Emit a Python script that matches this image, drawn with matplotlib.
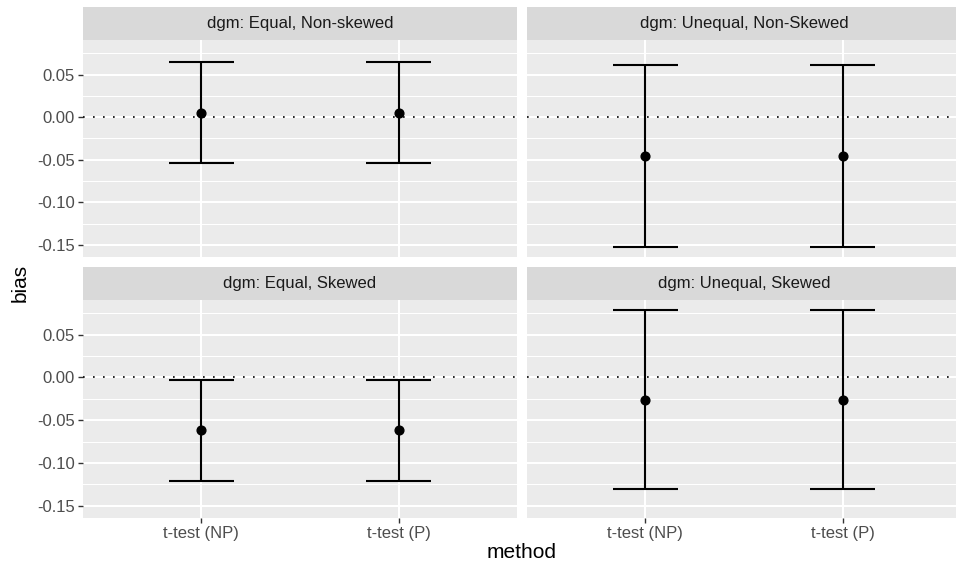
import matplotlib
matplotlib.use("Agg")
import matplotlib.pyplot as plt
import numpy as np

plt.rcParams["font.family"] = ["Liberation Sans", "DejaVu Sans"]

# facet labels, in facet_wrap order
panels = [
    "dgm: Equal, Non-skewed",
    "dgm: Unequal, Non-Skewed",
    "dgm: Equal, Skewed",
    "dgm: Unequal, Skewed",
]
methods = ["t-test (NP)", "t-test (P)"]

# one row per panel, one column per method
bias = np.array([
    [0.0054, 0.0054],
    [-0.0457, -0.0457],
    [-0.0617, -0.0617],
    [-0.0260, -0.0260],
])
lower = np.array([
    [-0.0539, -0.0539],
    [-0.1527, -0.1527],
    [-0.1206, -0.1206],
    [-0.1304, -0.1304],
])
upper = np.array([
    [0.0648, 0.0648],
    [0.0609, 0.0609],
    [-0.0024, -0.0024],
    [0.0790, 0.0790],
])

y_ticks = [0.05, 0.00, -0.05, -0.10, -0.15]
y_minor = [0.075, 0.025, -0.025, -0.075, -0.125]

PANEL_BG = "#EBEBEB"
STRIP_BG = "#D9D9D9"
W, H = 956, 565

fig = plt.figure(figsize=(W / 100, H / 100), dpi=100)

# pixel boxes (left, top, right, bottom) of the panels
cols = [(83, 517), (527, 961)]
rows = [(40, 257), (300, 518)]
strip_h = 33

lo, hi = lower.min(), upper.max()
pad = (hi - lo) * 0.05
ylim = (lo - pad, hi + pad)
xpos = np.arange(1, len(methods) + 1)
cap = 0.165

for k, title in enumerate(panels):
    r, c = divmod(k, 2)
    x0, x1 = cols[c]
    y0, y1 = rows[r]
    ax = fig.add_axes([x0 / W, 1 - y1 / H, (x1 - x0) / W, (y1 - y0) / H])
    ax.set_facecolor(PANEL_BG)
    for s in ax.spines.values():
        s.set_visible(False)
    ax.set_xlim(0.4, len(methods) + 0.6)
    ax.set_ylim(*ylim)
    ax.set_axisbelow(True)

    for v in y_minor:
        ax.axhline(v, color="white", lw=0.75, zorder=0)
    for v in y_ticks:
        ax.axhline(v, color="white", lw=1.45, zorder=0)
    for v in xpos:
        ax.axvline(v, color="white", lw=1.45, zorder=0)

    ax.axhline(0, color="black", lw=1.2, linestyle=(0, (1, 5)), zorder=1)

    ax.vlines(xpos, lower[k], upper[k], color="black", lw=1.5, zorder=2)
    ax.hlines(lower[k], xpos - cap, xpos + cap, color="black", lw=1.5, zorder=2)
    ax.hlines(upper[k], xpos - cap, xpos + cap, color="black", lw=1.5, zorder=2)
    ax.plot(xpos, bias[k], "o", color="black", ms=6.3, zorder=3)

    ax.set_yticks(y_ticks)
    ax.set_xticks(xpos)
    ax.tick_params(length=3.4, width=1.0, color="#333333", labelcolor="#4D4D4D",
                   labelsize=12, pad=2.5)
    if c == 0:
        ax.set_yticklabels([f"{v:.2f}" for v in y_ticks])
    else:
        ax.tick_params(axis="y", left=False, labelleft=False)
    if r == 1:
        ax.set_xticklabels(methods)
    else:
        ax.tick_params(axis="x", bottom=False, labelbottom=False)

    sax = fig.add_axes([x0 / W, 1 - y0 / H, (x1 - x0) / W, strip_h / H])
    sax.set_facecolor(STRIP_BG)
    sax.set_xticks([])
    sax.set_yticks([])
    for s in sax.spines.values():
        s.set_visible(False)
    sax.text(0.5, 0.5, title, ha="center", va="center", fontsize=12,
             color="#1A1A1A", transform=sax.transAxes)

fig.text((83 + 961) / 2 / W, 1 - 553 / H, "method", ha="center", va="center", fontsize=15)
fig.text(20 / W, 1 - 283 / H, "bias", ha="center", va="center", rotation=90, fontsize=15)

fig.savefig("out.png", dpi=100)
